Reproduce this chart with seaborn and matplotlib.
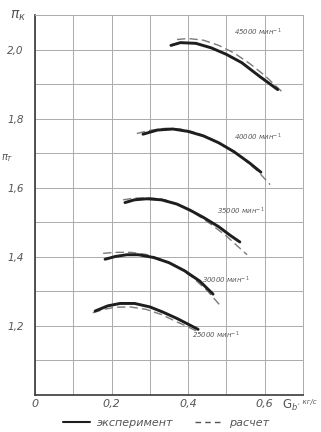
import numpy as np
import pandas as pd
import matplotlib
matplotlib.use("Agg")
import matplotlib.pyplot as plt
from matplotlib.lines import Line2D
import seaborn as sns

# ---- data ----
speeds = ["25000", "30000", "35000", "40000", "45000"]

g_exp_25 = [0.157, 0.19, 0.222, 0.26, 0.30, 0.334, 0.37, 0.40, 0.426]
pi_exp_25 = [1.243, 1.258, 1.265, 1.265, 1.255, 1.240, 1.222, 1.205, 1.190]
g_calc_25 = [0.151, 0.18, 0.21, 0.248, 0.29, 0.33, 0.37, 0.40, 0.431]
pi_calc_25 = [1.238, 1.248, 1.254, 1.255, 1.248, 1.233, 1.212, 1.197, 1.180]

g_exp_30 = [0.183, 0.21, 0.24, 0.27, 0.31, 0.35, 0.39, 0.43, 0.465]
pi_exp_30 = [1.393, 1.401, 1.406, 1.406, 1.398, 1.383, 1.360, 1.330, 1.292]
g_calc_30 = [0.178, 0.21, 0.25, 0.29, 0.33, 0.37, 0.41, 0.45, 0.483]
pi_calc_30 = [1.410, 1.413, 1.413, 1.407, 1.393, 1.372, 1.342, 1.302, 1.260]

g_exp_35 = [0.235, 0.26, 0.292, 0.33, 0.37, 0.405, 0.44, 0.48, 0.51, 0.535]
pi_exp_35 = [1.557, 1.565, 1.568, 1.565, 1.553, 1.535, 1.514, 1.487, 1.462, 1.443]
g_calc_35 = [0.23, 0.26, 0.30, 0.34, 0.38, 0.42, 0.46, 0.50, 0.53, 0.554]
pi_calc_35 = [1.565, 1.570, 1.571, 1.565, 1.548, 1.524, 1.494, 1.460, 1.430, 1.406]

g_exp_40 = [0.282, 0.32, 0.36, 0.40, 0.44, 0.48, 0.52, 0.56, 0.59]
pi_exp_40 = [1.755, 1.767, 1.770, 1.763, 1.750, 1.730, 1.704, 1.672, 1.645]
g_calc_40 = [0.266, 0.30, 0.34, 0.38, 0.42, 0.46, 0.50, 0.54, 0.58, 0.614]
pi_calc_40 = [1.757, 1.766, 1.772, 1.770, 1.760, 1.742, 1.718, 1.688, 1.650, 1.609]

g_exp_45 = [0.355, 0.38, 0.42, 0.46, 0.50, 0.54, 0.587, 0.634]
pi_exp_45 = [2.012, 2.020, 2.018, 2.005, 1.986, 1.962, 1.922, 1.884]
g_calc_45 = [0.371, 0.40, 0.44, 0.48, 0.52, 0.56, 0.60, 0.645]
pi_calc_45 = [2.029, 2.032, 2.027, 2.012, 1.990, 1.960, 1.925, 1.878]

label_x = [0.41, 0.435, 0.475, 0.52, 0.52]
label_y = [1.174, 1.333, 1.533, 1.745, 2.05]

x_ticks = [0, 0.2, 0.4, 0.6]
x_tick_labels = ["0", "0,2", "0,4", "0,6"]
y_ticks = [1.2, 1.4, 1.6, 1.8, 2.0]
y_tick_labels = ["1,2", "1,4", "1,6", "1,8", "2,0"]

# ---- long-form table ----
rows = []
series = {
    "25000": (g_exp_25, pi_exp_25, g_calc_25, pi_calc_25),
    "30000": (g_exp_30, pi_exp_30, g_calc_30, pi_calc_30),
    "35000": (g_exp_35, pi_exp_35, g_calc_35, pi_calc_35),
    "40000": (g_exp_40, pi_exp_40, g_calc_40, pi_calc_40),
    "45000": (g_exp_45, pi_exp_45, g_calc_45, pi_calc_45),
}
for sp, (ge, pe, gc, pc) in series.items():
    for g, p in zip(ge, pe):
        rows.append((sp, "эксперимент", g, p))
    for g, p in zip(gc, pc):
        rows.append((sp, "расчет", g, p))
df = pd.DataFrame(rows, columns=["speed", "kind", "G", "pi"])

sns.set_style("white")
plt.rcParams["font.family"] = ["DejaVu Sans"]

fig = plt.figure(figsize=(3.21, 4.32), dpi=100)
ax = fig.add_axes([35 / 321, 37 / 432, 268 / 321, 380 / 432])

for sp in speeds:
    d = df[(df.speed == sp) & (df.kind == "расчет")]
    sns.lineplot(data=d, x="G", y="pi", ax=ax, color="#7a7a7a", lw=1.0,
                 linestyle=(0, (6, 3)), sort=False, estimator=None, legend=False)
    d = df[(df.speed == sp) & (df.kind == "эксперимент")]
    sns.lineplot(data=d, x="G", y="pi", ax=ax, color="#1e1e1e", lw=2.1,
                 sort=False, estimator=None, legend=False, solid_capstyle="round")

for sp, lx, ly in zip(speeds, label_x, label_y):
    ax.text(lx, ly, sp + " мин$^{-1}$", fontsize=5, style="italic",
            color="#5a5a5a", ha="left", va="center")

ax.set_xlim(0, 0.7)
ax.set_ylim(1.0, 2.1)
ax.set_xticks(x_ticks)
ax.set_xticklabels(x_tick_labels, style="italic", fontsize=8, color="#555555")
ax.set_yticks(y_ticks)
ax.set_yticklabels(y_tick_labels, style="italic", fontsize=7.5, color="#555555")
ax.set_xticks(np.arange(0.1, 0.7, 0.1), minor=True)
ax.set_yticks(np.arange(1.1, 2.1, 0.1), minor=True)
ax.grid(True, which="both", color="#ababab", lw=0.7)
ax.tick_params(which="both", length=0)
ax.tick_params(axis="x", pad=3)
ax.tick_params(axis="y", pad=8)
ax.set_xlabel("")
ax.set_ylabel("")
for s in ["left", "bottom"]:
    ax.spines[s].set_color("#3a3a3a")
    ax.spines[s].set_linewidth(1.2)
for s in ["top", "right"]:
    ax.spines[s].set_color("#ababab")
    ax.spines[s].set_linewidth(0.7)
ax.set_axisbelow(True)

fig.text(10 / 321, 1 - 16 / 432, "$\\pi_к$", fontsize=10, color="#555555",
         ha="left", va="center")
fig.text(1 / 321, 1 - 158 / 432, "$\\pi_T$", fontsize=7, color="#555555",
         ha="left", va="center")
fig.text(282 / 321, 1 - 405 / 432, "G$_b$", fontsize=8.5,
         color="#555555", ha="left", va="center")
fig.text(298 / 321, 1 - 402 / 432, ", кг/с", fontsize=5, style="italic",
         color="#555555", ha="left", va="center")

handles = [Line2D([], [], color="#1e1e1e", lw=1.5),
           Line2D([], [], color="#555555", lw=1.0, linestyle=(0, (4, 3)))]
fig.legend(handles, ["эксперимент", "расчет"], loc="center",
           bbox_to_anchor=(166 / 321, 1 - 423 / 432), ncol=2, frameon=False,
           prop={"size": 8, "style": "italic"}, labelcolor="#555555",
           handlelength=2.4, columnspacing=2.0, handletextpad=0.6)

fig.savefig("out.png", dpi=100)
